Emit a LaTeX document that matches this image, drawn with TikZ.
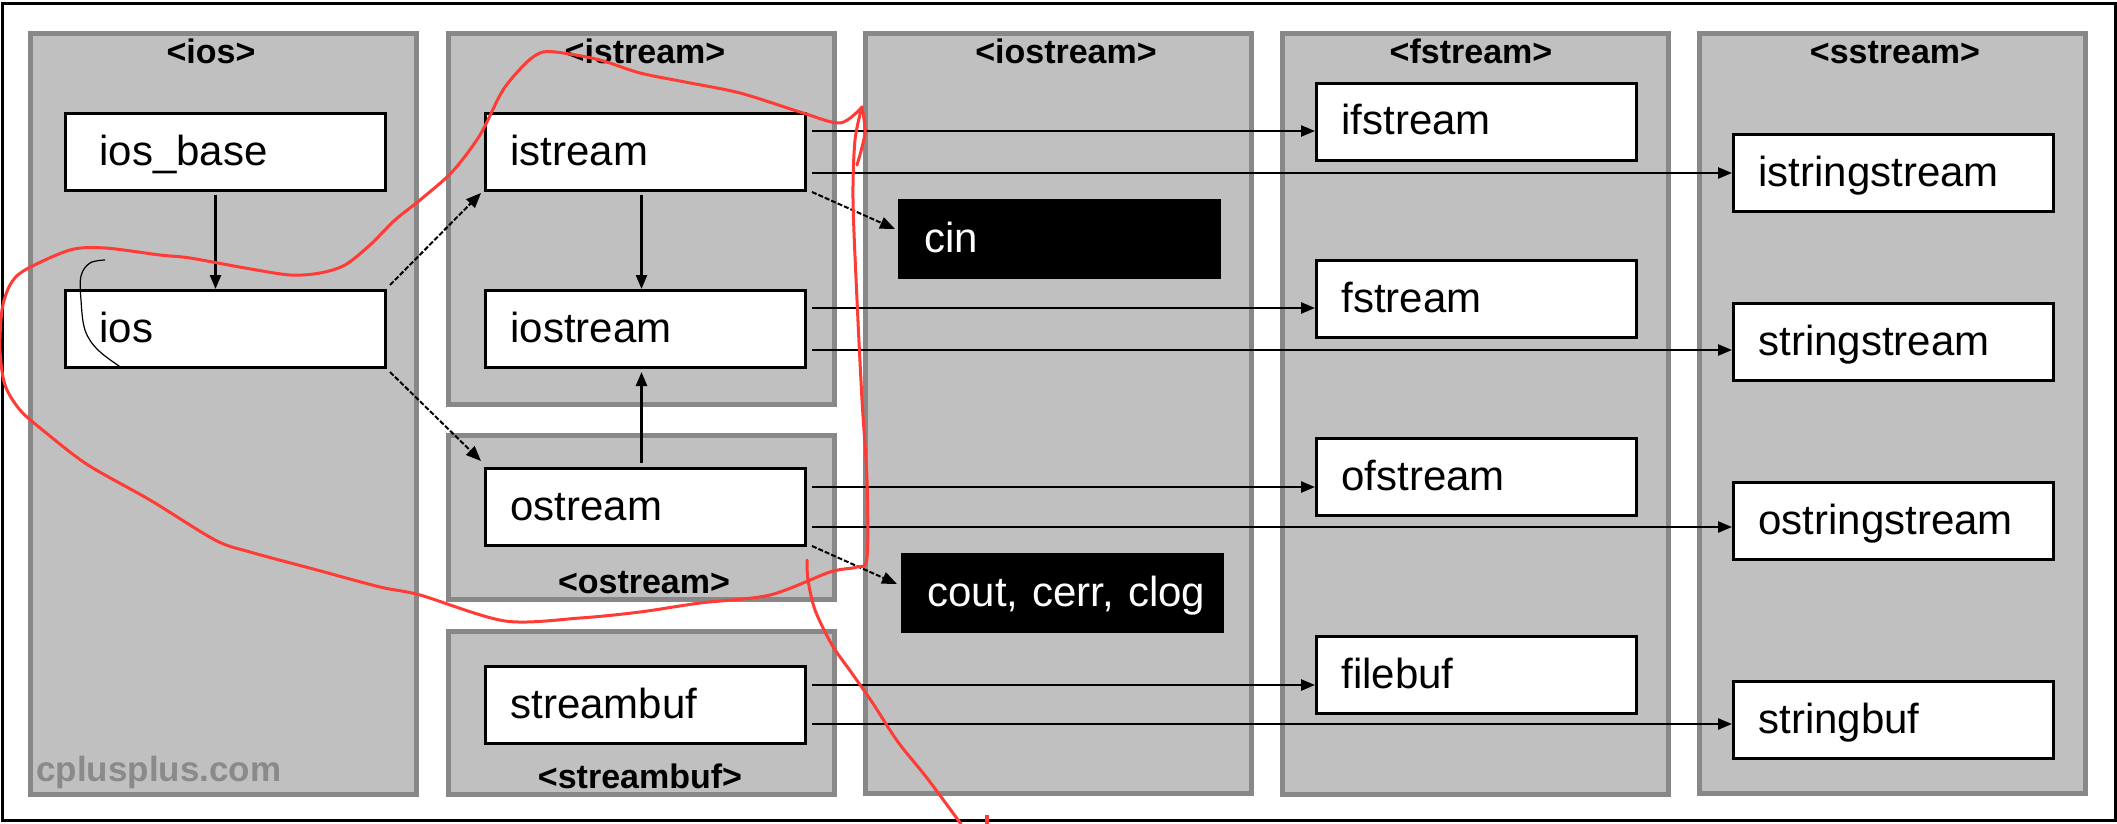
\documentclass[tikz,border=0pt]{standalone}
\usepackage{fontspec}
\setmainfont{Liberation Sans}
\usetikzlibrary{arrows.meta}
\newcommand\boxfnt{\fontsize{42}{48}\selectfont}
\newcommand\ttlfnt{\fontsize{34}{40}\selectfont\bfseries}
\definecolor{panelfill}{HTML}{C0C0C0}
\definecolor{panelline}{HTML}{888888}
\definecolor{pen}{HTML}{FF3B36}
\definecolor{wmark}{HTML}{8A8A8A}
\tikzset{
  panel/.style={fill=panelfill, draw=panelline, line width=5pt},
  ttl/.style={font=\ttlfnt, anchor=base, inner sep=0pt},
  cls/.style={rectangle, draw=black, fill=white, line width=3pt,
    minimum width=320pt, minimum height=77pt, text width=270pt,
    inner xsep=25pt, inner ysep=0pt, align=left,
    text height=26pt, text depth=0pt, anchor=north west, font=\boxfnt},
  iosbox/.style={cls, inner xsep=34pt, text width=252pt},
  obj/.style={cls, fill=black, text=white},
  arr/.style={line width=2.5pt, -{Triangle[length=14pt,width=11pt]}},
  diag/.style={line width=2pt, dash pattern=on 5pt off 2pt,
    -{Triangle[length=15pt,width=12pt]}},
  pencil/.style={draw=pen, line width=3pt, line cap=round, line join=round},
}
\begin{document}
\begin{tikzpicture}[x=1pt,y=-1pt]
\useasboundingbox (0,0) rectangle (2117,824);
\fill[white] (0,0) rectangle (2117,824);
\draw[line width=3pt] (2,4) rectangle (2115,820);

% panels
\draw[panel] (30.5,33.5) rectangle (416.5,794.5);
\draw[panel] (448.5,33.5) rectangle (834.5,404.5);
\draw[panel] (448.5,435.5) rectangle (834.5,599.5);
\draw[panel] (448.5,631.5) rectangle (834.5,794.5);
\draw[panel] (865.5,33.5) rectangle (1251.5,793.5);
\draw[panel] (1282.5,33.5) rectangle (1668.5,794.5);
\draw[panel] (1699.5,33.5) rectangle (2085.5,793.5);

% panel titles
\node[ttl] (tios) at (211,64) {<ios>};
\node[ttl] (tistream) at (645,64) {<istream>};
\node[ttl] (tiostream) at (1066,64) {<iostream>};
\node[ttl] (tfstream) at (1471,64) {<fstream>};
\node[ttl] (tsstream) at (1895,64) {<sstream>};
\node[ttl] (tostream) at (644,593) {<ostream>};
\node[ttl] (tstreambuf) at (640,788) {<streambuf>};

% watermark
\node[font=\fontsize{35}{40}\selectfont\bfseries, text=wmark, anchor=base west, inner sep=0pt] (wm) at (36,781) {cplusplus.com};

% class boxes
\node[iosbox] (iosbase) at (64,112) {ios\_base};
\node[iosbox] (ios) at (64,289) {ios};
\node[cls] (istream) at (484,112) {istream};
\node[cls] (iostream) at (484,289) {iostream};
\node[cls] (ostream) at (484,467) {ostream};
\node[cls] (streambuf) at (484,665) {streambuf};
\node[obj] (cin) at (898,199) {cin};
\node[obj] (cout) at (901,553) {\mbox{cout, cerr, clog}};
\node[cls] (ifstream) at (1315,82) {ifstream};
\node[cls] (fstream) at (1315,259) {fstream};
\node[cls] (ofstream) at (1315,437) {ofstream};
\node[cls] (filebuf) at (1315,635) {filebuf};
\node[cls] (istringstream) at (1732,133) {istringstream};
\node[cls] (stringstream) at (1732,302) {stringstream};
\node[cls] (ostringstream) at (1732,481) {ostringstream};
\node[cls] (stringbuf) at (1732,680) {stringbuf};

% vertical arrows
\draw[arr] ([shift={(-10,3)}]iosbase.south) -- ([shift={(-10,0)}]ios.north);
\draw[arr] ([shift={(-4,3)}]istream.south) -- ([shift={(-4,0)}]iostream.north);
\draw[arr] ([shift={(-4,-4)}]ostream.north) -- ([shift={(-4,3)}]iostream.south);

% diagonal arrows
\draw[diag] ([shift={(3,-4)}]ios.north east) -- ([shift={(-3,1)}]istream.south west);
\draw[diag] ([shift={(3,3)}]ios.south east) -- ([shift={(-3,-6)}]ostream.north west);
\draw[diag] ([shift={(5,0)}]istream.south east) -- ([shift={(-3,-10)}]cin.west);
\draw[diag] ([shift={(5,-1)}]ostream.south east) -- ([shift={(-4,-9)}]cout.west);

% horizontal arrows
\coordinate (h1) at ([shift={(5,19)}]istream.north east);
\coordinate (h2) at ([shift={(5,61)}]istream.north east);
\coordinate (h3) at ([shift={(5,19)}]iostream.north east);
\coordinate (h4) at ([shift={(5,61)}]iostream.north east);
\coordinate (h5) at ([shift={(5,20)}]ostream.north east);
\coordinate (h6) at ([shift={(5,60)}]ostream.north east);
\coordinate (h7) at ([shift={(5,20)}]streambuf.north east);
\coordinate (h8) at ([shift={(5,59)}]streambuf.north east);
\draw[arr] (h1) -- (ifstream.west |- h1);
\draw[arr] (h2) -- (istringstream.west |- h2);
\draw[arr] (h3) -- (fstream.west |- h3);
\draw[arr] (h4) -- (stringstream.west |- h4);
\draw[arr] (h5) -- (ofstream.west |- h5);
\draw[arr] (h6) -- (ostringstream.west |- h6);
\draw[arr] (h7) -- (filebuf.west |- h7);
\draw[arr] (h8) -- (stringbuf.west |- h8);

% hand-drawn annotations
\draw[pencil] plot[smooth, tension=0.5] coordinates {(857,165) (865,133) (862,107)};
\draw[pencil] plot[smooth, tension=0.5] coordinates {
 (862,107) (840,123) (800,112) (740,93) (685,82) (640,73) (600,60) (563,53)
 (543,52) (527,62) (503,90) (480,135) (452,172) (420,200) (395,220) (370,245)
 (345,265) (320,273) (290,275) (245,268) (190,258) (160,255) (105,248) (70,250)
 (25,270) (10,285) (2,310) (0,350) (5,385) (20,410) (45,432) (88,465) (150,500)
 (215,540) (250,552) (317,570) (380,587) (420,595) (505,621) (580,618) (640,612)
 (700,603) (770,595) (830,572) (857,567) (867,558) (867,480) (862,400) (857,300)
 (853,200) (855,140) (862,107)};
\draw[pencil] plot[smooth, tension=0.5] coordinates {
 (807,560) (808,580) (815,610) (832,645) (851,672) (872,702) (898,742) (927,778) (961,824)};
\draw[pen, line width=4pt] (987,815) -- (987,824);
\draw[line width=1.2pt] plot[smooth, tension=0.6] coordinates {
 (105,260) (90,263) (81,276) (81,300) (85,330) (98,350) (122,368)};
\end{tikzpicture}
\end{document}
